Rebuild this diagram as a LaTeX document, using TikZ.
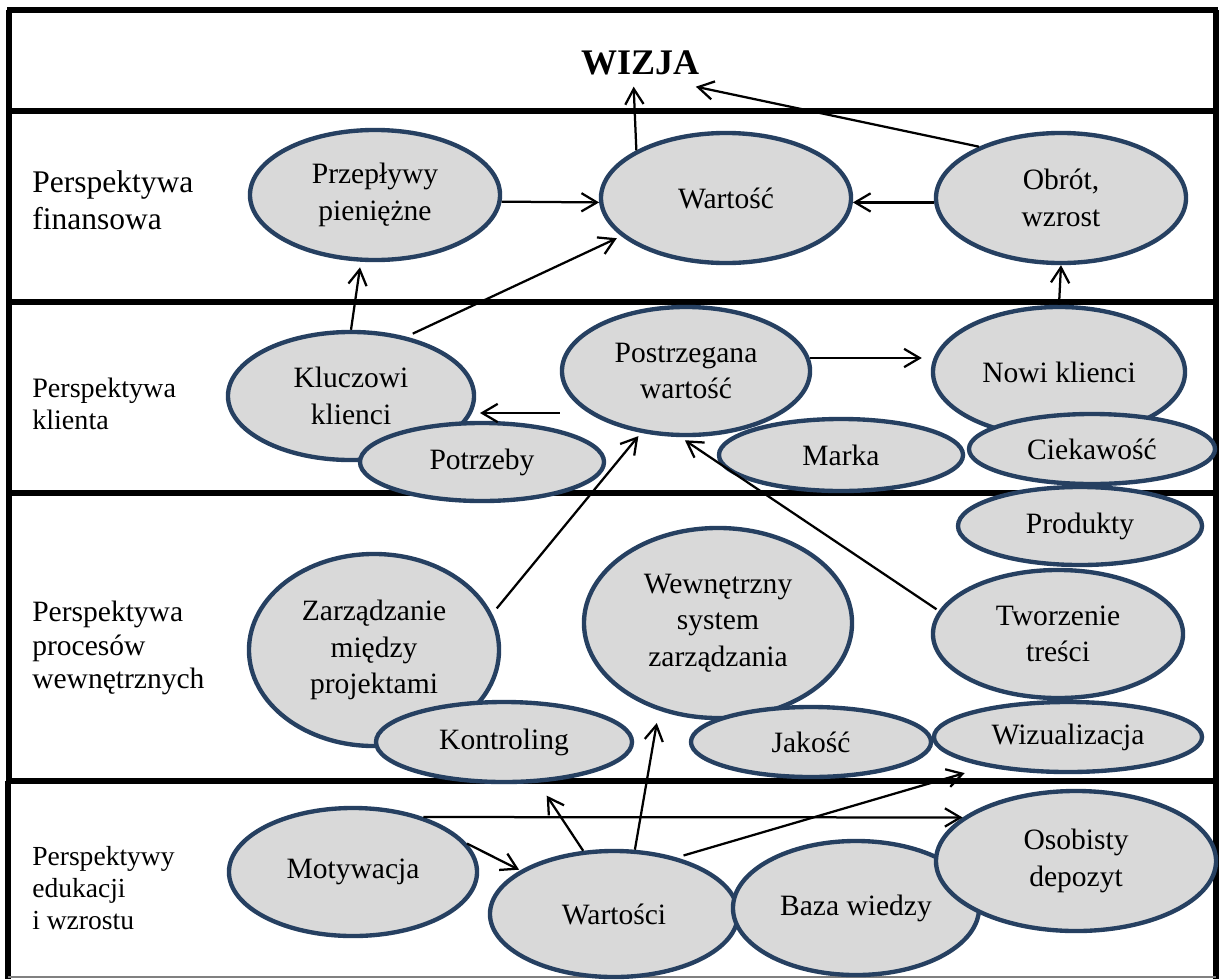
\documentclass[tikz,border=0pt]{standalone}
\usepackage{fontspec}
\setmainfont{Liberation Serif}
\usepackage{tikz}
\usetikzlibrary{arrows.meta}
\usetikzlibrary{shapes.geometric}
\tikzset{oval/.style = {ellipse, draw = oblue, fill = ogray, line width = 3.1pt,
                        inner sep = 1pt, align = center,
                        font = \fontsize{21}{26}\selectfont}}
\tikzset{arr/.style = {-{Straight Barb[length = 11pt, width = 13pt]}, line width = 1.6pt}}
\tikzset{band/.style = {line width = 3.6pt}}
\tikzset{lbl/.style = {anchor = west, align = left, inner sep = 0}}
\definecolor{oblue}{rgb}{0.15, 0.25, 0.38}
\definecolor{ogray}{rgb}{0.85, 0.85, 0.85}

\begin{document}
\begin{tikzpicture}[x = 0.025cm, y = -0.025cm]
    \useasboundingbox (0, 0) rectangle (1220, 979);

    \draw [band] (7, 10) -- (1218, 10);
    \draw [band] (7, 111) -- (1218, 111);
    \draw [band] (7, 302) -- (1218, 302);
    \draw [band] (7, 493) -- (1218, 493);
    \draw [band] (6, 781) -- (1218, 781);
    \draw [band] (9, 10) -- (9, 781);
    \draw [band] (8, 781) -- (8, 979);
    \draw [band] (1216, 10) -- (1216, 979);
    \draw [gray, line width = 0.8pt] (8, 977) -- (1216, 977);

    \node [inner sep = 8pt, font = \fontsize{25.6}{30}\selectfont\bfseries] (wizja) at (640, 63) {WIZJA};

    \node [lbl, font = \fontsize{22.4}{26}\selectfont] (finlabel) at (32, 200) {Perspektywa\\finansowa};
    \node [lbl, font = \fontsize{20}{23}\selectfont] (klilabel) at (32, 404) {Perspektywa\\klienta};
    \node [lbl, font = \fontsize{21}{24}\selectfont] (prolabel) at (32, 648) {Perspektywa\\procesów\\wewnętrznych};
    \node [lbl, font = \fontsize{19.6}{23}\selectfont] (edulabel) at (32, 888) {Perspektywy\\edukacji\\i wzrostu};

    \node [oval, minimum width = 6.25cm, minimum height = 3.25cm] (przeplywy) at (375, 195) {Przepływy\\pieniężne};
    \node [oval, minimum width = 6.25cm, minimum height = 3.25cm] (wartosc) at (726, 198) {Wartość};
    \node [oval, minimum width = 6.25cm, minimum height = 3.25cm] (obrot) at (1061, 198) {Obrót,\\wzrost};

    \node [oval, minimum width = 6.15cm, minimum height = 3.2cm] (kluczowi) at (351, 396) {Kluczowi\\klienci};
    \node [oval, minimum width = 6.1cm, minimum height = 1.95cm] (potrzeby) at (482, 462) {Potrzeby};
    \node [oval, minimum width = 6.2cm, minimum height = 3.2cm] (postrzegana) at (686, 371) {Postrzegana\\wartość};
    \node [oval, minimum width = 6.1cm, minimum height = 1.8cm] (marka) at (841, 455) {Marka};
    \node [oval, minimum width = 6.3cm, minimum height = 3.25cm] (nowi) at (1059, 372) {Nowi klienci};
    \node [oval, minimum width = 6.15cm, minimum height = 1.75cm] (ciekawosc) at (1092, 449) {Ciekawość};
    \node [oval, minimum width = 6.1cm, minimum height = 1.95cm] (produkty) at (1080, 526) {Produkty};

    \node [oval, minimum width = 6.25cm, minimum height = 4.8cm] (zarzadzanie) at (374, 650) {Zarządzanie\\między\\projektami};
    \node [oval, minimum width = 6.4cm, minimum height = 2cm] (kontroling) at (504, 742) {Kontroling};
    \node [oval, minimum width = 6.7cm, minimum height = 4.75cm] (wewnetrzny) at (718, 623) {Wewnętrzny\\system\\zarządzania};
    \node [oval, minimum width = 6cm, minimum height = 1.75cm] (jakosc) at (811, 742) {Jakość};
    \node [oval, minimum width = 6.25cm, minimum height = 3.2cm] (tworzenie) at (1058, 634) {Tworzenie\\treści};
    \node [oval, minimum width = 6.7cm, minimum height = 1.75cm] (wizualizacja) at (1068, 737) {Wizualizacja};

    \node [oval, minimum width = 6.2cm, minimum height = 3.2cm] (motywacja) at (353, 872) {Motywacja};
    \node [oval, minimum width = 6.2cm, minimum height = 3.15cm] (wartosci) at (614, 914) {Wartości};
    \node [oval, minimum width = 6.15cm, minimum height = 3.35cm] (baza) at (856, 908) {Baza wiedzy};
    \node [oval, minimum width = 7cm, minimum height = 3.5cm] (osobisty) at (1076, 861) {Osobisty\\depozyt};

    \draw [arr] (wartosc.152) -- (wizja.255);
    \draw [arr] (obrot.148) -- (wizja.337);
    \draw [arr] (przeplywy.-3) -- (wartosc.182);
    \draw [arr] (obrot.182) -- (wartosc.-2);
    \draw [arr, shorten >= 4pt] (kluczowi.north) -- (przeplywy.258);
    \draw [arr, shorten <= 5pt, shorten >= 3.5pt] (kluczowi.47) -- (wartosc.200);
    \draw [arr] (nowi.north) -- (obrot.south);

    \draw [arr, shorten >= 6.4pt] (postrzegana.6) -- (postrzegana.6 -| nowi.west);
    \draw [arr, shorten >= 5.7pt] (postrzegana.west |- kluczowi.-8) -- (kluczowi.-8);
    \draw [arr, shorten <= 5pt, shorten >= 3pt] (zarzadzanie.17) -- (postrzegana.234);
    \draw [arr, shorten <= 2pt, shorten >= 4pt] (tworzenie.169) -- (postrzegana.265);

    \draw [arr] (motywacja.38) -- (osobisty.159);
    \draw [arr, shorten >= 1pt] (motywacja.14) -- (wartosci.155);
    \draw [arr, shorten >= 11pt] (wartosci.116) -- (kontroling.-50);
    \draw [arr, shorten >= 9pt] (wartosci.72) -- (wewnetrzny.236);
    \draw [arr, shorten <= 5pt, shorten >= 16pt] (wartosci.42) -- (wizualizacja.200);
\end{tikzpicture}
\end{document}
